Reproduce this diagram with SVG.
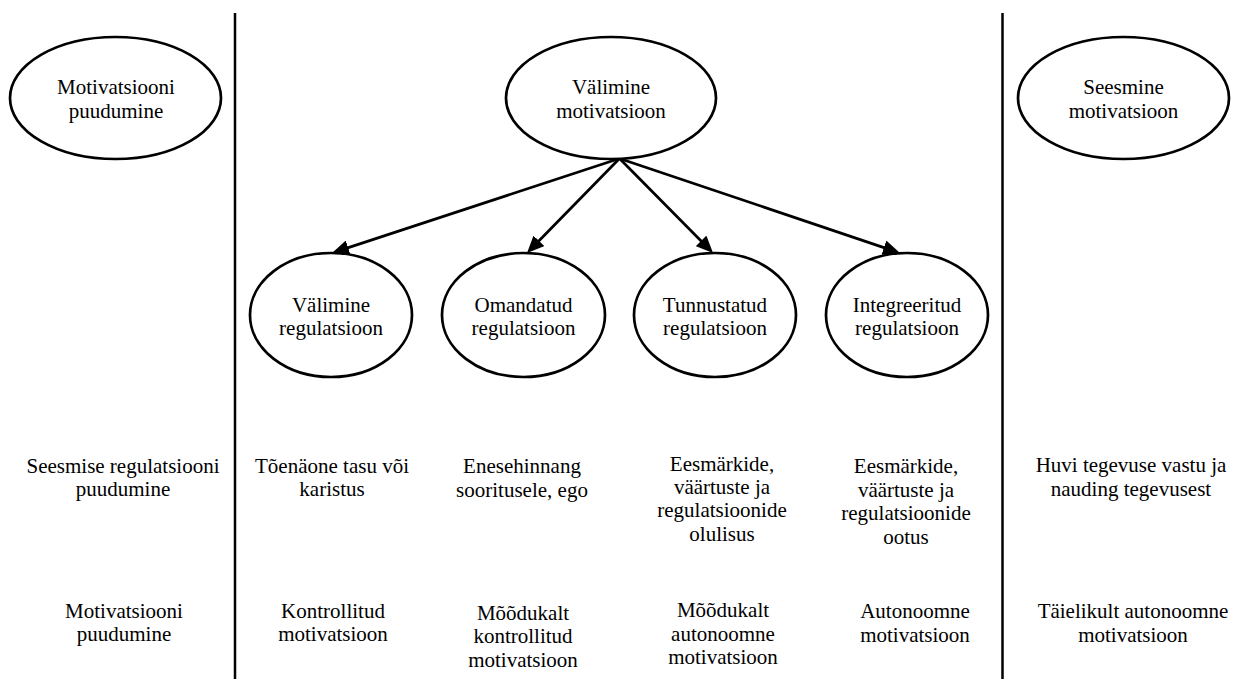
<svg xmlns="http://www.w3.org/2000/svg" width="1237" height="679" viewBox="0 0 1237 679" font-family="'Liberation Serif', 'Times New Roman', serif">
<style>
  .node ellipse { fill: #ffffff; stroke: #000000; stroke-width: 2.7; }
  text { font-family: "Liberation Serif", "Times New Roman", serif; font-size: 21px; fill: #000000; text-anchor: middle; }
  .divider { stroke: #000000; stroke-width: 2.5; }
  .edge { stroke: #000000; stroke-width: 2.7; fill: none; marker-end: url(#arrow); }
</style>
<defs>
  <marker id="arrow" markerUnits="userSpaceOnUse" markerWidth="18" markerHeight="15" refX="11" refY="7.5" orient="auto">
    <path d="M0,0 L17,7.5 L0,15 z" fill="#000000"/>
  </marker>
</defs>
<rect x="0" y="0" width="1237" height="679" fill="#ffffff"/>

<g id="dividers">
  <line class="divider" x1="235" y1="13" x2="235" y2="679"/>
  <line class="divider" x1="1002.5" y1="13" x2="1002.5" y2="679"/>
</g>

<g id="connectors">
  <line class="edge" x1="619.5" y1="158.5" x2="337.7" y2="251.1"/>
  <line class="edge" x1="619.5" y1="158.5" x2="531.2" y2="248.7"/>
  <line class="edge" x1="619.5" y1="158.5" x2="708.8" y2="248.7"/>
  <line class="edge" x1="619.5" y1="158.5" x2="894.3" y2="251.1"/>
</g>

<g id="node-motivatsiooni-puudumine" class="node">
  <ellipse cx="115.5" cy="98" rx="105.5" ry="61"/>
  <text x="116" y="94">Motivatsiooni</text>
  <text x="116" y="118">puudumine</text>
</g>
<g id="node-valimine-motivatsioon" class="node">
  <ellipse cx="611" cy="98" rx="105" ry="61"/>
  <text x="611" y="94">Välimine</text>
  <text x="611" y="118">motivatsioon</text>
</g>
<g id="node-seesmine-motivatsioon" class="node">
  <ellipse cx="1123.5" cy="98" rx="105.5" ry="61"/>
  <text x="1123.5" y="94">Seesmine</text>
  <text x="1123.5" y="118">motivatsioon</text>
</g>

<g id="node-valimine-regulatsioon" class="node">
  <ellipse cx="331" cy="315" rx="81" ry="62"/>
  <text x="331" y="312">Välimine</text>
  <text x="331" y="335">regulatsioon</text>
</g>
<g id="node-omandatud-regulatsioon" class="node">
  <ellipse cx="523.5" cy="315" rx="81.5" ry="62"/>
  <text x="523.5" y="312">Omandatud</text>
  <text x="523.5" y="335">regulatsioon</text>
</g>
<g id="node-tunnustatud-regulatsioon" class="node">
  <ellipse cx="715" cy="315" rx="81" ry="62"/>
  <text x="715" y="312">Tunnustatud</text>
  <text x="715" y="335">regulatsioon</text>
</g>
<g id="node-integreeritud-regulatsioon" class="node">
  <ellipse cx="907" cy="315" rx="81" ry="62"/>
  <text x="907" y="312">Integreeritud</text>
  <text x="907" y="335">regulatsioon</text>
</g>

<g id="row-regulation">
  <text x="123" y="473">Seesmise regulatsiooni</text>
  <text x="123" y="496">puudumine</text>

  <text x="332" y="473">Tõenäone tasu või</text>
  <text x="332" y="496">karistus</text>

  <text x="522" y="473">Enesehinnang</text>
  <text x="522" y="497">sooritusele, ego</text>

  <text x="722" y="471">Eesmärkide,</text>
  <text x="722" y="494">väärtuste ja</text>
  <text x="722" y="517">regulatsioonide</text>
  <text x="722" y="541">olulisus</text>

  <text x="906" y="473">Eesmärkide,</text>
  <text x="906" y="497">väärtuste ja</text>
  <text x="906" y="520">regulatsioonide</text>
  <text x="906" y="544">ootus</text>

  <text x="1131" y="472">Huvi tegevuse vastu ja</text>
  <text x="1131" y="496">nauding tegevusest</text>
</g>

<g id="row-motivation">
  <text x="124" y="618">Motivatsiooni</text>
  <text x="124" y="641">puudumine</text>

  <text x="333" y="618">Kontrollitud</text>
  <text x="333" y="641">motivatsioon</text>

  <text x="523" y="620">Mõõdukalt</text>
  <text x="523" y="643">kontrollitud</text>
  <text x="523" y="667">motivatsioon</text>

  <text x="723" y="617">Mõõdukalt</text>
  <text x="723" y="641">autonoomne</text>
  <text x="723" y="664">motivatsioon</text>

  <text x="915" y="618">Autonoomne</text>
  <text x="915" y="642">motivatsioon</text>

  <text x="1133" y="618">Täielikult autonoomne</text>
  <text x="1133" y="642">motivatsioon</text>
</g>
</svg>
